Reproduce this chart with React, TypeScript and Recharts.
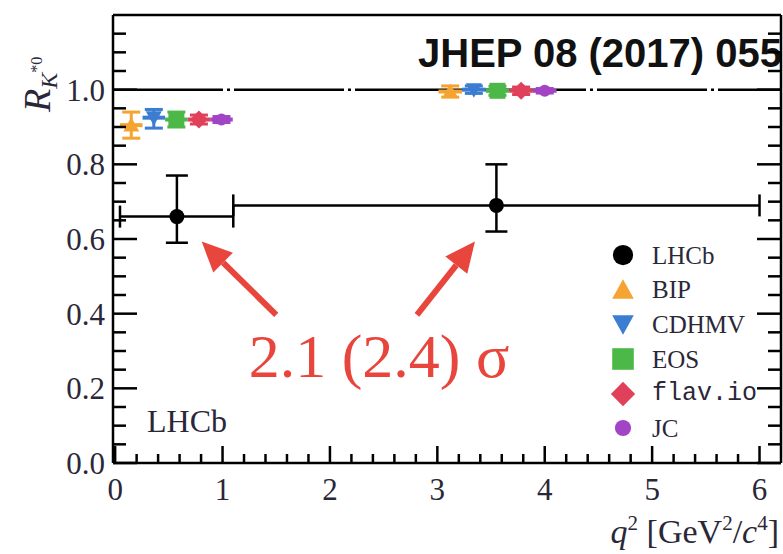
import React from 'react';
import { ComposedChart, Scatter, XAxis, YAxis, ErrorBar, ReferenceLine, Legend } from 'recharts';

// LHCb measurement, two q^2 bins
const lhcbQ2 = [0.575, 3.55];
const lhcbQ2Err = [[0.53, 0.525], [2.45, 2.45]];
const lhcbR = [0.66, 0.69];
const lhcbRErr = [[0.07, 0.11], [0.07, 0.11]];

// theory predictions, drawn side by side inside each bin
const models = ['BIP', 'CDHMV', 'EOS', 'flav.io', 'JC'];
const modelColors = ['#f5a431', '#3b7dd0', '#4cb848', '#e0405a', '#a244c6'];
const modelMarkers = ['triUp', 'triDown', 'square', 'diamond', 'dot'];
const lowBinQ2 = [0.15, 0.36, 0.57, 0.78, 0.99];
const highBinQ2 = [3.12, 3.34, 3.56, 3.78, 4.0];
const lowBinHalf = 0.105;
const highBinHalf = 0.11;
const lowBinR = [0.905, 0.925, 0.92, 0.92, 0.92];
const lowBinRErr = [[0.035, 0.035], [0.028, 0.022], [0.02, 0.02], [0.012, 0.012], [0.008, 0.008]];
const highBinR = [0.995, 1.0, 0.997, 0.997, 0.997];
const highBinRErr = [[0.015, 0.015], [0.01, 0.01], [0.012, 0.012], [0.01, 0.01], [0.006, 0.006]];

const legendOrder = ['LHCb', ...models];

const xTicks = Array.from({ length: 31 }, (_, i) => Math.round(i * 20) / 100);
const yTicks = Array.from({ length: 24 }, (_, i) => Math.round(i * 5) / 100);

const lhcbData = lhcbQ2.map((q, i) => ({ q2: q, r: lhcbR[i], ex: lhcbQ2Err[i], ey: lhcbRErr[i] }));
const modelData = models.map((_, i) => [
    { q2: lowBinQ2[i], r: lowBinR[i], ex: [lowBinHalf, lowBinHalf], ey: lowBinRErr[i] },
    { q2: highBinQ2[i], r: highBinR[i], ex: [highBinHalf, highBinHalf], ey: highBinRErr[i] },
]);

const SERIF = '"Liberation Serif", "DejaVu Serif", serif';
const TEXT = '#2a2838';
const RED = '#e8453c';

function Marker({ kind, cx, cy, color, big }: any) {
    const k = big ? 1.35 : 1;
    switch (kind) {
        case 'circle':
            return <circle cx={cx} cy={cy} r={7.5 * k} fill={color} />;
        case 'dot':
            return <circle cx={cx} cy={cy} r={6 * k} fill={color} />;
        case 'triUp': {
            const s = 8 * k;
            return <polygon points={`${cx},${cy - s} ${cx + s},${cy + s * 0.8} ${cx - s},${cy + s * 0.8}`} fill={color} />;
        }
        case 'triDown': {
            const s = 8 * k;
            return <polygon points={`${cx},${cy + s} ${cx + s},${cy - s * 0.8} ${cx - s},${cy - s * 0.8}`} fill={color} />;
        }
        case 'square': {
            const s = 8 * k;
            return <rect x={cx - s} y={cy - s} width={2 * s} height={2 * s} fill={color} />;
        }
        case 'diamond': {
            const s = 9 * k;
            return <polygon points={`${cx},${cy - s} ${cx + s},${cy} ${cx},${cy + s} ${cx - s},${cy}`} fill={color} />;
        }
        default:
            return null;
    }
}

const isInt = (v: number) => Math.abs(v - Math.round(v)) < 1e-6;
const isMajorY = (v: number) => Math.abs(v * 5 - Math.round(v * 5)) < 1e-6;

const BottomTick = ({ x, y, payload }: any) => {
    const major = isInt(payload.value);
    return (
        <g>
            <line x1={x} y1={y} x2={x} y2={y - (major ? 17 : 9)} stroke="#000" strokeWidth={2.5} />
            {major && (
                <text x={x} y={y + 37} textAnchor="middle" fontFamily={SERIF} fontSize={31} fill={TEXT}>
                    {Math.round(payload.value)}
                </text>
            )}
        </g>
    );
};

const TopTick = ({ x, y, payload }: any) => {
    const major = isInt(payload.value);
    return <line x1={x} y1={y} x2={x} y2={y + (major ? 17 : 9)} stroke="#000" strokeWidth={2.5} />;
};

const LeftTick = ({ x, y, payload }: any) => {
    const major = isMajorY(payload.value);
    return (
        <g>
            <line x1={x} y1={y} x2={x + (major ? 24 : 13)} y2={y} stroke="#000" strokeWidth={2.5} />
            {major && (
                <text x={x - 8} y={y + 11} textAnchor="end" fontFamily={SERIF} fontSize={31} fill={TEXT}>
                    {payload.value.toFixed(1)}
                </text>
            )}
        </g>
    );
};

const RightTick = ({ x, y, payload }: any) => {
    const major = isMajorY(payload.value);
    return <line x1={x} y1={y} x2={x - (major ? 24 : 13)} y2={y} stroke="#000" strokeWidth={2.5} />;
};

const Arrow = ({ x1, y1, x2, y2 }: any) => {
    const a = Math.atan2(y2 - y1, x2 - x1);
    const len = 30;
    const half = 14;
    const bx = x2 - len * Math.cos(a);
    const by = y2 - len * Math.sin(a);
    const px = -Math.sin(a) * half;
    const py = Math.cos(a) * half;
    return (
        <g>
            <line x1={x1} y1={y1} x2={bx} y2={by} stroke={RED} strokeWidth={6} />
            <polygon points={`${x2},${y2} ${bx + px},${by + py} ${bx - px},${by - py}`} fill={RED} />
        </g>
    );
};

const LegendBox = ({ payload }: any) => {
    const items = [...(payload || [])].sort(
        (a: any, b: any) => legendOrder.indexOf(a.value) - legendOrder.indexOf(b.value)
    );
    return (
        <div style={{ display: 'flex', flexDirection: 'column' }}>
            {items.map((entry: any) => {
                const i = models.indexOf(entry.value);
                const kind = i < 0 ? 'circle' : modelMarkers[i];
                const color = i < 0 ? '#000' : modelColors[i];
                const mono = entry.value === 'flav.io';
                return (
                    <div key={entry.value} style={{ display: 'flex', alignItems: 'center', height: 34.6 }}>
                        <svg width={30} height={30}>
                            <Marker kind={kind} cx={15} cy={15} color={color} big />
                        </svg>
                        <span
                            style={{
                                marginLeft: 14,
                                fontFamily: mono ? '"Liberation Mono", monospace' : SERIF,
                                fontSize: 25,
                                color: TEXT,
                                lineHeight: 1,
                            }}
                        >
                            {entry.value}
                        </span>
                    </div>
                );
            })}
        </div>
    );
};

export default function App() {
    return (
        <div style={{ position: 'absolute', left: 0, top: 0, width: 783, height: 554, background: '#fff' }}>
            <ComposedChart width={783} height={554} margin={{ top: 14, right: 1, bottom: 90, left: 112 }}>
                <XAxis
                    type="number"
                    dataKey="q2"
                    domain={[-0.02, 6.2]}
                    allowDataOverflow
                    ticks={xTicks}
                    interval={0}
                    height={1}
                    tickSize={0}
                    tickMargin={0}
                    tickLine={false}
                    tick={<BottomTick />}
                    axisLine={{ stroke: '#000', strokeWidth: 2.5 }}
                />
                <XAxis
                    xAxisId="top"
                    orientation="top"
                    type="number"
                    domain={[-0.02, 6.2]}
                    allowDataOverflow
                    ticks={xTicks}
                    interval={0}
                    height={1}
                    tickSize={0}
                    tickMargin={0}
                    tickLine={false}
                    tick={<TopTick />}
                    axisLine={{ stroke: '#000', strokeWidth: 2.5 }}
                />
                <YAxis
                    type="number"
                    dataKey="r"
                    domain={[0, 1.2]}
                    allowDataOverflow
                    ticks={yTicks}
                    interval={0}
                    width={1}
                    tickSize={0}
                    tickMargin={0}
                    tickLine={false}
                    tick={<LeftTick />}
                    axisLine={{ stroke: '#000', strokeWidth: 2.5 }}
                />
                <YAxis
                    yAxisId="right"
                    orientation="right"
                    type="number"
                    domain={[0, 1.2]}
                    allowDataOverflow
                    ticks={yTicks}
                    interval={0}
                    width={1}
                    tickSize={0}
                    tickMargin={0}
                    tickLine={false}
                    tick={<RightTick />}
                    axisLine={{ stroke: '#000', strokeWidth: 2.5 }}
                />

                <ReferenceLine y={1} stroke="#000" strokeWidth={2.5} strokeDasharray="110 4 3 4" />

                <Scatter
                    name="LHCb"
                    data={lhcbData}
                    fill="#000"
                    isAnimationActive={false}
                    shape={(p: any) => <Marker kind="circle" cx={p.cx} cy={p.cy} color="#000" />}
                >
                    <ErrorBar dataKey="ex" direction="x" width={11} stroke="#000" strokeWidth={2.5} />
                    <ErrorBar dataKey="ey" direction="y" width={11} stroke="#000" strokeWidth={2.5} />
                </Scatter>

                {models.map((name, i) => (
                    <Scatter
                        key={name}
                        name={name}
                        data={modelData[i]}
                        fill={modelColors[i]}
                        isAnimationActive={false}
                        shape={(p: any) => <Marker kind={modelMarkers[i]} cx={p.cx} cy={p.cy} color={modelColors[i]} />}
                    >
                        <ErrorBar dataKey="ex" direction="x" width={0} stroke={modelColors[i]} strokeWidth={4} />
                        <ErrorBar dataKey="ey" direction="y" width={9} stroke={modelColors[i]} strokeWidth={3} />
                    </Scatter>
                ))}

                <ReferenceLine segment={[{ x: 1.5, y: 0.397 }, { x: 0.806, y: 0.593 }]} shape={<Arrow />} />
                <ReferenceLine segment={[{ x: 2.81, y: 0.397 }, { x: 3.35, y: 0.593 }]} shape={<Arrow />} />

                <Legend
                    layout="vertical"
                    align="center"
                    verticalAlign="middle"
                    content={<LegendBox />}
                    wrapperStyle={{ left: 608, top: 238, width: 'auto' }}
                />

                <text x={418} y={67} fontFamily='"Liberation Sans", Arial, sans-serif' fontWeight="bold" fontSize={40} fill="#111">
                    JHEP 08 (2017) 055
                </text>
                <text x={379} y={377} textAnchor="middle" fontFamily={SERIF} fontSize={62} fill={RED}>
                    2.1 (2.4) σ
                </text>
                <text x={147} y={432} fontFamily={SERIF} fontSize={32} fill={TEXT}>
                    LHCb
                </text>
                <text transform="rotate(-90)" x={-112} y={50} fontFamily={SERIF} fontSize={38} fill={TEXT}>
                    <tspan fontStyle="italic">R</tspan>
                    <tspan fontStyle="italic" fontSize={24} dy={7}>K</tspan>
                    <tspan fontSize={16} dy={-15}>*0</tspan>
                </text>
                <text x={779} y={543} textAnchor="end" fontFamily={SERIF} fontSize={34} fill={TEXT}>
                    <tspan fontStyle="italic">q</tspan>
                    <tspan fontSize={21} dy={-13}>2</tspan>
                    <tspan dy={13}> [GeV</tspan>
                    <tspan fontSize={21} dy={-13}>2</tspan>
                    <tspan dy={13}>/</tspan>
                    <tspan fontStyle="italic">c</tspan>
                    <tspan fontSize={21} dy={-13}>4</tspan>
                    <tspan dy={13}>]</tspan>
                </text>
            </ComposedChart>
        </div>
    );
}
